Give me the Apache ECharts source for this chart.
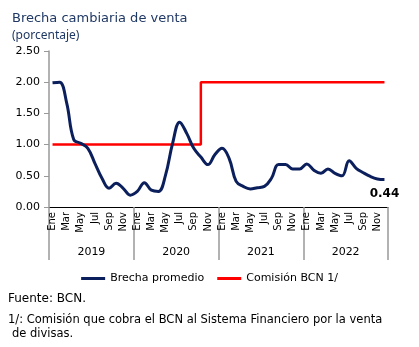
<!DOCTYPE html>
<html><head><meta charset="utf-8">
<script src="https://cdn.jsdelivr.net/npm/echarts@6/dist/echarts.min.js"></script>
<style>html,body{margin:0;padding:0;background:#fff}#c{width:419px;height:347px}</style>
</head><body><div id="c"></div>
<script>
const monthNames = ['Ene','Feb','Mar','Abr','May','Jun','Jul','Ago','Sep','Oct','Nov','Dic'];
const years = ['2019','2020','2021','2022'];
const months = [];
years.forEach(y => monthNames.forEach(m => months.push(m + ' ' + y)));
const brecha = [1.99,2.00,1.67,1.08,1.02,0.94,0.70,0.46,0.30,0.38,0.30,0.19,
                0.25,0.39,0.27,0.25,0.51,1.02,1.36,1.18,0.94,0.80,0.68,0.84,
                0.94,0.78,0.41,0.33,0.29,0.31,0.33,0.46,0.68,0.68,0.61,0.61,
                0.69,0.59,0.54,0.61,0.54,0.50,0.74,0.62,0.55,0.49,0.45,0.44];
const comision = [1,1,1,1,1,1,1,1,1,1,1,1,1,1,1,1,1,1,1,1,1,
                  2,2,2,2,2,2,2,2,2,2,2,2,2,2,2,2,2,2,2,2,2,2,2,2,2,2,2];
const yTicks = {min:0, max:2.5, interval:0.5};

const chart = echarts.init(document.getElementById('c'));
const font = 'DejaVu Sans';
chart.setOption({
  animation:false,
  textStyle:{fontFamily:font},
  title:[
    {text:'Brecha cambiaria de venta', left:7, top:7, textStyle:{fontFamily:'DejaVu Sans', fontSize:13, fontWeight:'normal', color:'#1F3864'}},
    {text:'(porcentaje)', left:7, top:25, textStyle:{fontFamily:'Noto Sans', fontSize:12, fontWeight:'normal', color:'#1F3864'}}
  ],
  grid:{left:49, right:31, top:51, bottom:140},
  xAxis:[
    {type:'category', data:months, boundaryGap:true,
     axisLine:{lineStyle:{color:'#000', width:1}},
     axisTick:{show:false},
     axisLabel:{interval:1, rotate:90, fontSize:10, color:'#000', margin:5,
       formatter:v=>v.split(' ')[0]}},
    {type:'category', data:years, position:'bottom', boundaryGap:true,
     axisLine:{show:false},
     axisTick:{show:true, length:53, lineStyle:{color:'#999', width:1.5}},
     axisLabel:{fontSize:11, color:'#000', margin:40}}
  ],
  yAxis:{type:'value', min:yTicks.min, max:yTicks.max, interval:yTicks.interval,
    splitLine:{show:false},
    axisLine:{show:true, lineStyle:{color:'#999', width:1.5}},
    axisTick:{show:true, length:5, lineStyle:{color:'#999'}},
    axisLabel:{fontSize:11, color:'#000', margin:9, formatter:v=>v.toFixed(2)}},
  legend:{bottom:58, left:'center', itemGap:13, itemWidth:24, itemHeight:3, icon:'rect',
    textStyle:{fontSize:11, color:'#000', fontFamily:font},
    data:['Brecha promedio','Comisión BCN 1/']},
  series:[
    {name:'Comisión BCN 1/', type:'line', data:comision, step:'end', symbol:'none',
     lineStyle:{color:'#FF0000', width:2.5}, itemStyle:{color:'#FF0000'}},
    {name:'Brecha promedio', type:'line', data:brecha, smooth:0.4, symbol:'none',
     lineStyle:{color:'#0B1F5C', width:3}, itemStyle:{color:'#0B1F5C'},
     markPoint:{symbol:'circle', symbolSize:0,
       data:[{coord:[months.length-1, brecha[brecha.length-1]], value:brecha[brecha.length-1]}],
       label:{show:true, position:'bottom', distance:8, fontWeight:'bold', fontSize:12, color:'#000',
         formatter:p=>p.value.toFixed(2)}}}
  ],
  graphic:[
    {type:'text', left:8, top:293, style:{text:'Fuente: BCN.', font:'12px DejaVu Sans', fill:'#000'}},
    {type:'text', left:8, top:314, style:{text:'1/: Comisión que cobra el BCN al Sistema Financiero por la venta', font:'11.5px DejaVu Sans', fill:'#000'}},
    {type:'text', left:12, top:328, style:{text:'de divisas.', font:'11.5px DejaVu Sans', fill:'#000'}}
  ]
});
</script></body></html>
